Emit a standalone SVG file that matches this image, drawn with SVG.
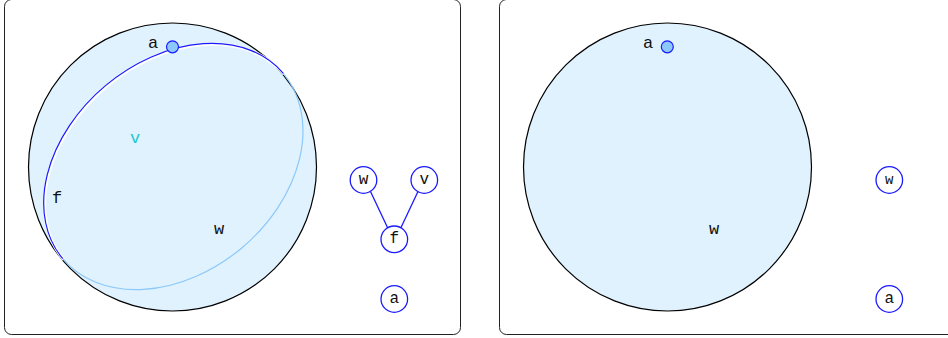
<svg xmlns="http://www.w3.org/2000/svg" width="948" height="338" viewBox="0 0 948 338">
<style>
.panel{fill:#fff;stroke:#222;stroke-width:1}
.big{fill:#e0f2fe;stroke:#000;stroke-width:1.2}
.pt{fill:#8cc8fa;stroke:#1a1aff;stroke-width:1.2}
.node circle{fill:#fff;stroke:#1a1aff;stroke-width:1.3}
.lbl{font-family:"Liberation Mono","DejaVu Sans Mono",monospace;font-size:17px;fill:#111}
.nl{font-family:"Liberation Mono","DejaVu Sans Mono",monospace;font-size:16px;fill:#111;text-anchor:middle;dominant-baseline:central}
.edge{stroke:#1a1aff;stroke-width:1.3;fill:none}
</style>
<rect class="panel" x="4.5" y="-0.5" width="456" height="335" rx="7"/>
<rect class="panel" x="499.5" y="-0.5" width="456" height="335" rx="7"/>
<g id="left-set">
<circle class="big" cx="172.5" cy="167" r="144"/>
<path d="M 62.7 258.6 A 144 105 -40 0 1 283.3 73.4" fill="none" stroke="#fff" stroke-width="3.2" transform="translate(0.8,0.8)"/>
<path d="M 283.3 73.4 A 144 107 -40 0 1 62.7 258.6" fill="none" stroke="#8cc8fa" stroke-width="1.2"/>
<path d="M 62.7 258.6 A 144 105 -40 0 1 283.3 73.4" fill="none" stroke="#1a1aff" stroke-width="1.2"/>
<text class="lbl" x="130" y="143" style="fill:#22c8d0">v</text>
<text class="lbl" x="52" y="203">f</text>
<text class="lbl" x="214" y="234">w</text>
</g>
<g id="left-a">
<circle class="pt" cx="172.5" cy="46.8" r="6"/>
<text class="lbl" x="148" y="48">a</text>
</g>
<g id="connectors">
<line class="edge" x1="370.5" y1="191.5" x2="387.5" y2="227.5"/>
<line class="edge" x1="418" y1="191.5" x2="401" y2="227.5"/>
</g>
<g id="node-w1" class="node"><circle cx="363.5" cy="180" r="13.3"/><text class="nl" x="363.5" y="180">w</text></g>
<g id="node-v1" class="node"><circle cx="424.3" cy="180" r="13.3"/><text class="nl" x="424.3" y="180">v</text></g>
<g id="node-f1" class="node"><circle cx="394.3" cy="239.3" r="13.3"/><text class="nl" x="394.3" y="239.3">f</text></g>
<g id="node-a1" class="node"><circle cx="394.3" cy="299" r="13.3"/><text class="nl" x="394.3" y="299">a</text></g>
<g id="right-set">
<circle class="big" cx="667.5" cy="167" r="144"/>
<text class="lbl" x="709" y="234">w</text>
</g>
<g id="right-a">
<circle class="pt" cx="667.3" cy="46.8" r="6"/>
<text class="lbl" x="643" y="48">a</text>
</g>
<g id="node-w2" class="node"><circle cx="889.3" cy="180" r="13.3"/><text class="nl" x="889.3" y="180" style="font-size:14px">w</text></g>
<g id="node-a2" class="node"><circle cx="889.3" cy="299" r="13.3"/><text class="nl" x="889.3" y="299">a</text></g>
</svg>
